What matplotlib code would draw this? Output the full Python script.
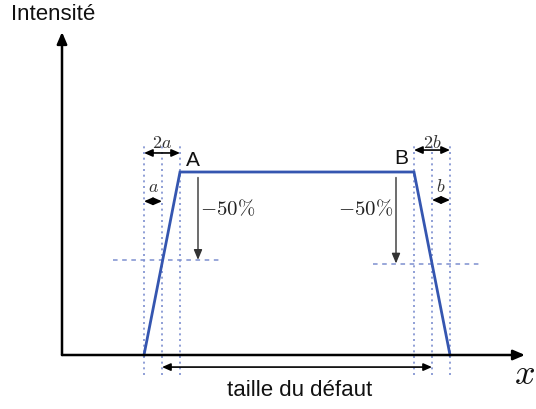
import matplotlib
matplotlib.use("Agg")
import matplotlib.pyplot as plt

plt.rcParams["mathtext.fontset"] = "cm"

# Data (x in units of a, intensity normalised)
trap_x = [0, 2, 15, 17]
trap_y = [0, 1, 1, 0]
guide_x = [0, 1, 2, 15, 16, 17]
half_levels = [0.52, 0.50]
labels_top = ["A", "B"]

PX = 18.0      # pixels per x unit
PY = 183.0     # pixels per intensity unit
X0, Y0 = 144.0, 355.0

fig = plt.figure(figsize=(5.36, 4.09), dpi=100)
ax = fig.add_axes([0, 0, 1, 1])
ax.set_xlim(-X0 / PX, (536 - X0) / PX)
ax.set_ylim((Y0 - 409) / PY, Y0 / PY)
ax.axis("off")

xo = (62 - X0) / PX  # axis origin
ax_end_x = (525 - X0) / PX
ax_end_y = (Y0 - 32) / PY

arr = dict(arrowstyle="-|>,head_length=0.7,head_width=0.3", color="black", lw=1.8,
           shrinkA=0, shrinkB=0)
ax.annotate("", xy=(ax_end_x, 0), xytext=(xo, 0), arrowprops=arr)
ax.annotate("", xy=(xo, ax_end_y), xytext=(xo, 0), arrowprops=arr)

ax.text(xo - 0.5, (Y0 - 15) / PY, "Intensité", ha="center", va="center",
        fontsize=16, family="Liberation Sans", color="#111111")
ax.text((524 - X0) / PX, (Y0 - 374) / PY, r"$x$", ha="center", va="center",
        fontsize=26, color="#111111")

guide_col = "#7d8fd0"
for gx in guide_x:
    ax.plot([gx, gx], [-0.11, 1.15], ls=(0, (1.2, 2.2)), lw=1.2, color=guide_col)

# half-level dashed lines
ax.plot([(113 - X0) / PX, (223 - X0) / PX], [half_levels[0]] * 2,
        ls=(0, (3, 3)), lw=1.1, color=guide_col)
ax.plot([(373 - X0) / PX, (483 - X0) / PX], [half_levels[1]] * 2,
        ls=(0, (3, 3)), lw=1.1, color=guide_col)

ax.plot(trap_x, trap_y, color="#3556b0", lw=2.0, solid_joinstyle="miter")

# -50% arrows
garr = dict(arrowstyle="-|>,head_length=0.6,head_width=0.25", color="#333333",
            lw=1.0, shrinkA=0, shrinkB=0)
ax.annotate("", xy=(3, half_levels[0]), xytext=(3, 0.97), arrowprops=garr)
ax.annotate("", xy=(14, half_levels[1]), xytext=(14, 0.97), arrowprops=garr)
ax.text(3.1, 0.80, r"$-50\%$", ha="left", va="center", fontsize=15, color="#222222")
ax.text(13.85, 0.80, r"$-50\%$", ha="right", va="center", fontsize=15, color="#222222")

# dimension arrows
darr = dict(arrowstyle="<|-|>,head_length=0.5,head_width=0.22", color="black",
            lw=1.2, shrinkA=0, shrinkB=0)
ax.annotate("", xy=(0, 1.104), xytext=(2, 1.104), arrowprops=darr)
ax.annotate("", xy=(0, 0.84), xytext=(1, 0.84), arrowprops=darr)
ax.annotate("", xy=(15, 1.12), xytext=(17, 1.12), arrowprops=darr)
ax.annotate("", xy=(16, 0.847), xytext=(17, 0.847), arrowprops=darr)
ax.annotate("", xy=(1, -0.066), xytext=(16, -0.066), arrowprops=darr)

ax.text(1.0, (Y0 - 143) / PY, r"$2a$", ha="center", va="center", fontsize=13, color="#333333")
ax.text(0.5, (Y0 - 187) / PY, r"$a$", ha="center", va="center", fontsize=13, color="#333333")
ax.text(16.0, (Y0 - 143) / PY, r"$2b$", ha="center", va="center", fontsize=13, color="#333333")
ax.text(16.5, (Y0 - 187) / PY, r"$b$", ha="center", va="center", fontsize=13, color="#333333")

ax.text(2.7, (Y0 - 160) / PY, labels_top[0], ha="center", va="center",
        fontsize=15, family="Liberation Sans", color="#111111")
ax.text(14.3, (Y0 - 159) / PY, labels_top[1], ha="center", va="center",
        fontsize=15, family="Liberation Sans", color="#111111")

ax.text(8.65, (Y0 - 390) / PY, "taille du défaut", ha="center", va="center",
        fontsize=16, family="Liberation Sans", color="#111111")

fig.savefig("out.png", dpi=100)
